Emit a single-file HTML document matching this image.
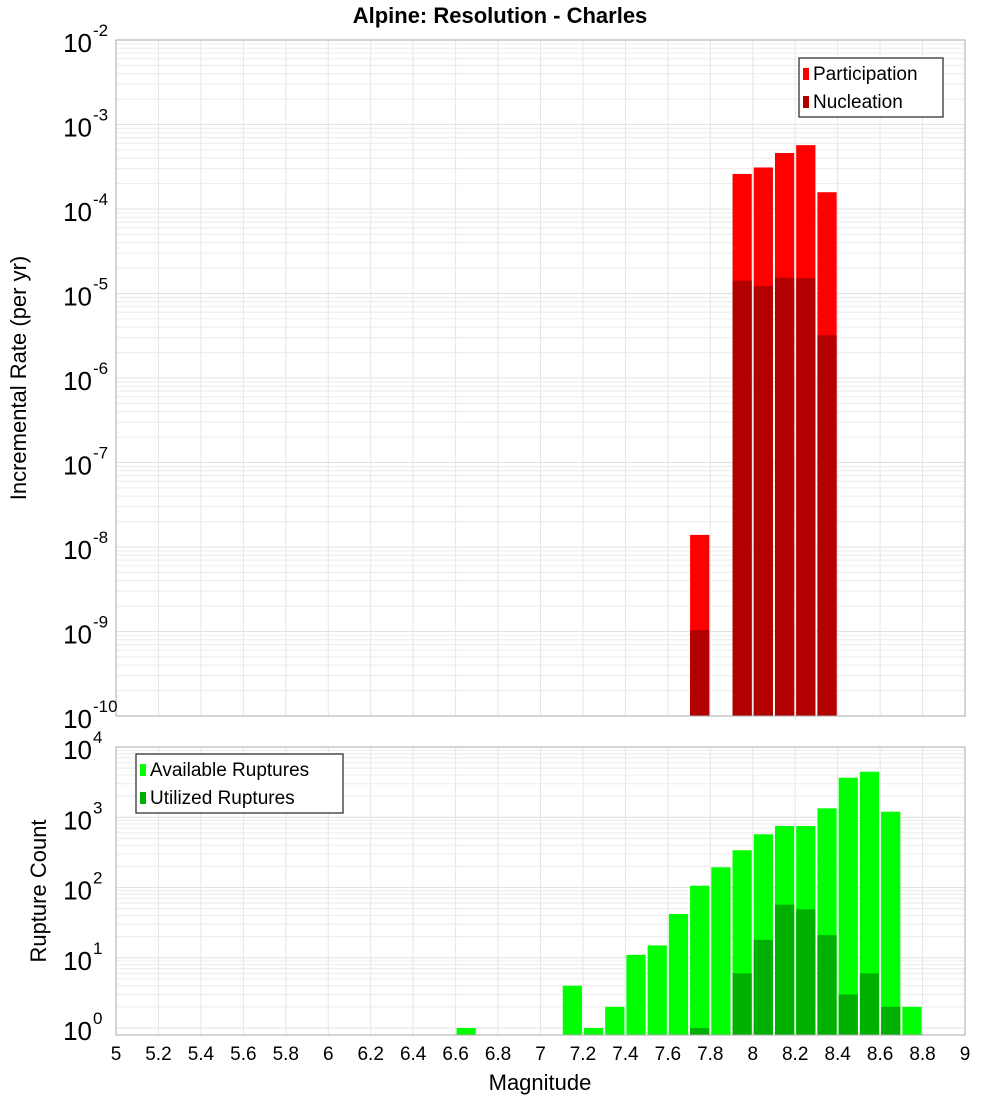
<!DOCTYPE html>
<html><head><meta charset="utf-8"><style>
body{margin:0;background:#fff;}
svg{display:block;font-family:"Liberation Sans","DejaVu Sans",sans-serif;}
</style></head><body>
<svg id="chart" width="1000" height="1100">
<text x="500" y="23" text-anchor="middle" font-size="22" font-weight="bold">Alpine: Resolution - Charles</text>
<g id="top"></g>
<g id="bot"></g>
<text transform="translate(26,378) rotate(-90)" text-anchor="middle" font-size="22">Incremental Rate (per yr)</text>
<text transform="translate(46,891) rotate(-90)" text-anchor="middle" font-size="22">Rupture Count</text>
<text x="540" y="1090" text-anchor="middle" font-size="22">Magnitude</text>
</svg>
<script>
const topMags=[7.75,7.95,8.05,8.15,8.25,8.35];
const participation=[1.39e-8,2.6e-4,3.1e-4,4.6e-4,5.7e-4,1.58e-4];
const nucleation=[1.04e-9,1.42e-5,1.22e-5,1.54e-5,1.52e-5,3.2e-6];
const botMags=[6.65,7.15,7.25,7.35,7.45,7.55,7.65,7.75,7.85,7.95,8.05,8.15,8.25,8.35,8.45,8.55,8.65,8.75];
const available=[1,4,1,2,11,15,42,106,194,339,572,750,750,1340,3650,4450,1200,2];
const utilized=[0,0,0,0,0,0,0,1,0,6,18,57,49,21,3,6,2,0];
const xTicks=[5,5.2,5.4,5.6,5.8,6,6.2,6.4,6.6,6.8,7,7.2,7.4,7.6,7.8,8,8.2,8.4,8.6,8.8,9];
const topExps=[-10,-9,-8,-7,-6,-5,-4,-3,-2];
const botExps=[0,1,2,3,4];
const binWidth=0.1;
const NS='http://www.w3.org/2000/svg';
const X0=116,X1=965;
const xs=m=>X0+(m-5)/4*(X1-X0);
const yTop=v=>716-84.5*(Math.log10(v)+10);
const yBot=v=>1028-70.25*Math.log10(v);
function mk(parent,tag,attrs,text){const e=document.createElementNS(NS,tag);for(const k in attrs)e.setAttribute(k,attrs[k]);if(text!==undefined)e.textContent=text;parent.appendChild(e);return e;}
function panel(g,top,bottom,yf,exps,minV){
  mk(g,'rect',{x:X0,y:top,width:X1-X0,height:bottom-top,fill:'#fff'});
  for(let i=0;i<exps.length;i++){for(let k=1;k<10;k++){const v=k*Math.pow(10,exps[i]);if(v<minV)continue;const y=yf(v);if(y<top-0.5||y>bottom)continue;
    const l=mk(g,'line',{x1:X0,x2:X1,y1:y,y2:y,stroke:k==1?'#e0e0e0':'#ececec','stroke-width':1});
    }}
  for(const t of xTicks){const l=mk(g,'line',{x1:xs(t),x2:xs(t),y1:top,y2:bottom,stroke:'#e6e6e6'});
    }
}
function bars(g,mags,vals,yf,base,color,name){
  for(let i=0;i<mags.length;i++){if(!(vals[i]>0))continue;const x=xs(mags[i]-binWidth/2)+1,w=xs(mags[i]+binWidth/2)-xs(mags[i]-binWidth/2)-2;const y=yf(vals[i]);
    const r=mk(g,'rect',{x:x,y:y,width:w,height:base-y,fill:color});
    }
}
function yLabels(g,exps,yf,top){
  for(const e of exps){const y=yf(Math.pow(10,e));const t=mk(g,'text',{x:92,y:y+12,'text-anchor':'end','font-size':26},'10');
    
    const s=mk(g,'text',{x:93,y:y-4,'font-size':17},String(e));
    }
}
function legend(g,x,y,w,items){
  const b=mk(g,'rect',{x:x,y:y,width:w,height:59,fill:'#fff',stroke:'#333','stroke-width':1.3});
  
  items.forEach((it,i)=>{const r=mk(g,'rect',{x:x+4,y:y+10+i*28,width:6,height:12,fill:it[1]});
    
    const t=mk(g,'text',{x:x+14,y:y+22+i*28,'font-size':19},it[0]);
    });
}
const gt=document.getElementById('top'),gb=document.getElementById('bot');
panel(gt,40,716,yTop,topExps,1e-10);
bars(gt,topMags,participation,yTop,716,'#ff0000','participation');
bars(gt,topMags,nucleation,yTop,716,'#b20000','nucleation');
mk(gt,'rect',{x:X0,y:40,width:X1-X0,height:676,fill:'none',stroke:'#aaa'});
yLabels(gt,topExps,yTop);
legend(gt,799,58,144,[['Participation','#ff0000'],['Nucleation','#b20000']]);
panel(gb,747,1035,yBot,botExps,0.8);
bars(gb,botMags,available,yBot,1035,'#00ff00','available');
bars(gb,botMags,utilized,yBot,1035,'#00b000','utilized');
mk(gb,'rect',{x:X0,y:747,width:X1-X0,height:288,fill:'none',stroke:'#aaa'});
yLabels(gb,botExps,yBot);
legend(gb,136,754,207,[['Available Ruptures','#00ff00'],['Utilized Ruptures','#00b000']]);
for(const t of xTicks){const l=mk(gb,'text',{x:xs(t),y:1060,'text-anchor':'middle','font-size':19},String(t));
  }
</script>
</body></html>
